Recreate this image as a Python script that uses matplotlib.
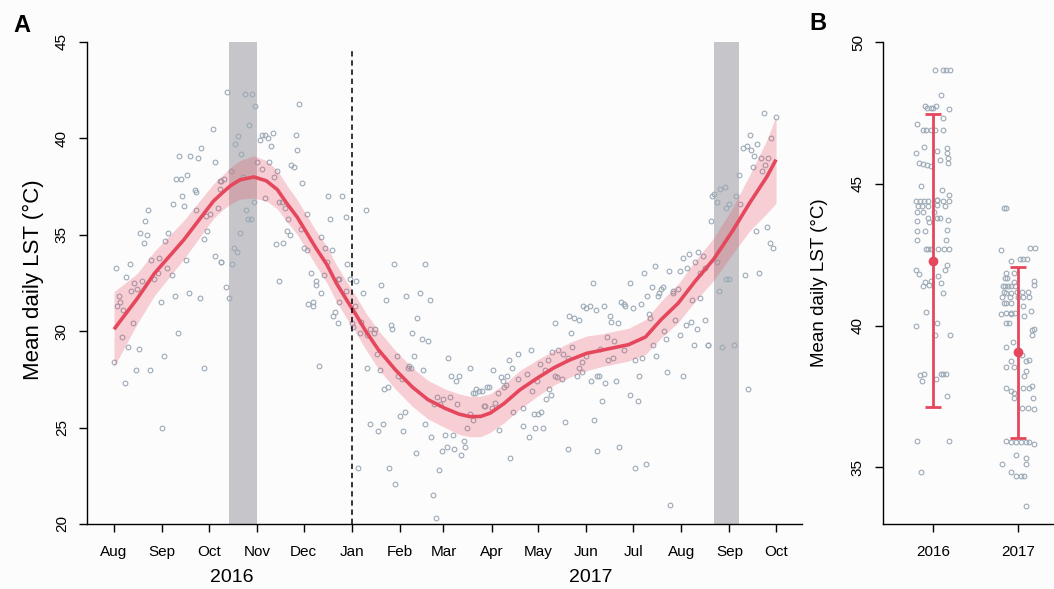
import numpy as np
import matplotlib
matplotlib.use("Agg")
import matplotlib.pyplot as plt
import matplotlib.dates as mdates
from datetime import datetime

plt.rcParams['font.family'] = ['Liberation Sans', 'DejaVu Sans']

# ---- data (panel A) ----
START = datetime(2016, 8, 1)   # day 0

# daily observations: days since 1 Aug 2016, mean daily LST (°C)
obs_day = [64, 56, 42, 49, 54, 65, 47, 40, 43, 68, 52, 53, 44, 38, 45, 22, 53, 67, 20, 59,
           62, 17, 21, 19, 35, 33, 60, 58, 65, 69, 1, 10, 24, 29, 46, 8, 13, 18, 34, 37,
           26, 28, 11, 15, 3, 4, 2, 6, 30, 39, 48, 55, 12, 5, 41,
           0, 7, 9, 14, 16, 23, 31, 32, 58, 72, 74, 106, 125, 128, 128, 130, 133, 132, 141, 142,
           144, 145, 149,
           73, 84, 89, 91, 119, 87, 80, 78, 94, 95, 97, 99, 102, 101, 117, 118, 82, 92, 95, 100,
           105, 103, 114, 116, 75, 71, 69, 83, 68, 90, 97, 106, 108, 110, 85, 121, 138, 147, 86, 88,
           112, 124, 139, 149, 120, 81, 111, 113, 133, 104, 109, 122, 124, 136, 140, 77, 79, 69, 76, 137,
           127, 135, 144, 145, 130,
           162, 180, 200, 150, 152, 156, 172, 160, 175, 188, 197, 203, 155, 195, 153, 154, 159, 158, 163, 165,
           168, 167, 178, 179, 192, 198, 202, 169, 182, 193, 190, 191, 189, 199, 163, 171, 183, 185, 215, 229,
           217, 222, 220, 174, 176, 208, 212, 216, 206, 210, 221, 231, 229, 227, 184, 187, 200, 165, 173, 170,
           186, 204, 213, 218, 225, 226, 223, 214, 211, 219, 194, 157, 177, 209, 181, 205, 207,
           308, 332, 341, 348, 357, 366, 370, 369, 376, 379, 374, 364, 346, 353, 352, 384, 385, 386, 388, 390,
           302, 304, 306, 310, 284, 293, 296, 299, 294, 295, 260, 268, 254, 256, 244, 282, 286, 289, 292, 274,
           279, 277, 304, 301, 299, 301, 298, 288, 307, 311, 249, 250, 252, 253, 232, 233, 235, 237, 240, 241,
           247, 251, 260, 266, 272, 269, 280, 284, 285, 278, 281, 238, 239, 243, 245, 231, 257, 263, 270, 273,
           275, 248, 263, 271, 276, 267, 290, 309, 292, 311, 255,
           377, 380, 372, 377, 380, 375, 373, 382, 371, 368, 364, 361, 360, 363, 360, 350, 351, 343, 339, 328,
           329, 326, 334, 315, 319, 320, 324, 344, 345, 317, 322, 313, 318, 321, 328, 335, 340, 347, 349, 354,
           355, 312, 316, 323, 338, 356, 366, 332, 337, 314, 325, 335, 342, 358,
           418, 426, 409, 405, 407, 410, 414, 412, 416, 421, 423, 411, 417, 419, 402, 393, 394, 396, 400, 403,
           413, 420, 422, 424, 388, 394, 396, 406, 415, 389, 382, 391, 399, 408]
obs_lst = [40.5, 39.5, 39.1, 39.1, 39.0, 38.8, 38.1, 37.9, 37.9, 37.8, 37.3, 37.2, 37.0, 36.6, 36.5, 36.3, 36.3, 36.4, 35.7, 36.0,
           36.1, 35.1, 35.0, 34.6, 35.1, 34.7, 35.2, 34.8, 33.9, 33.6, 33.3, 33.5, 33.7, 33.8, 33.7, 32.8, 32.5, 32.6, 33.3, 32.9,
           32.7, 33.0, 32.1, 32.2, 31.8, 31.5, 31.3, 31.1, 31.5, 31.8, 32.0, 31.7, 30.4, 29.7, 29.9,
           28.4, 27.3, 29.2, 28.0, 29.1, 28.0, 25.0, 28.7, 28.1, 32.3, 31.7, 32.6, 31.4, 31.5, 31.3, 32.4, 32.0, 28.2, 30.8, 31.0,
           30.4, 31.5, 32.1,
           42.4, 42.3, 42.3, 41.7, 41.8, 40.7, 40.1, 39.7, 39.9, 40.2, 40.2, 40.0, 40.3, 39.6, 40.2, 39.4, 39.2, 38.8, 38.4, 38.8,
           38.3, 38.0, 38.6, 38.5, 38.3, 37.9, 37.8, 38.0, 37.4, 36.7, 36.9, 36.7, 36.7, 36.4, 36.3, 37.7, 37.0, 37.0, 35.8, 35.8,
           35.8, 36.1, 35.8, 35.9, 35.3, 35.1, 35.2, 35.0, 34.9, 34.5, 34.6, 34.3, 34.2, 34.3, 34.2, 34.3, 34.1, 33.6, 33.5, 33.6,
           33.0, 32.9, 32.7, 32.7, 32.6,
           36.3, 33.5, 33.5, 33.5, 32.7, 32.6, 32.4, 32.0, 31.6, 31.8, 32.0, 31.6, 31.3, 30.7, 30.4, 30.2, 30.5, 29.9, 29.8, 30.1,
           30.1, 29.9, 30.3, 30.1, 29.9, 29.6, 29.5, 28.8, 28.7, 28.7, 28.2, 28.1, 28.1, 28.0, 28.1, 28.0, 27.7, 27.5, 28.6, 28.1,
           27.7, 27.7, 27.4, 27.0, 27.1, 26.6, 26.5, 26.6, 26.2, 26.2, 26.2, 26.8, 25.7, 25.0, 25.6, 25.8, 25.2, 25.2, 25.2, 24.8,
           24.8, 24.5, 24.6, 24.6, 24.3, 24.0, 23.6, 24.0, 23.8, 23.9, 23.7, 22.9, 22.9, 22.8, 22.1, 21.5, 20.3,
           32.5, 32.5, 33.0, 33.4, 33.1, 33.8, 34.0, 33.3, 34.1, 33.9, 33.6, 33.1, 32.3, 32.3, 32.2, 35.7, 37.0, 37.1, 36.7, 37.4,
           31.3, 31.2, 31.3, 31.1, 30.4, 30.8, 30.7, 30.6, 29.9, 29.2, 28.8, 29.0, 28.5, 28.1, 28.0, 28.9, 29.0, 28.8, 28.6, 28.3,
           28.5, 28.0, 28.7, 28.4, 28.1, 27.9, 27.7, 27.5, 27.4, 27.7, 27.6, 27.4, 27.2, 27.7, 26.8, 27.0, 26.9, 26.9, 27.1, 27.1,
           26.8, 27.1, 27.5, 27.8, 27.4, 26.9, 27.0, 27.7, 27.6, 26.5, 26.7, 26.1, 26.1, 26.0, 26.3, 25.4, 25.8, 26.0, 25.7, 25.7,
           25.8, 24.9, 25.1, 25.0, 25.0, 24.5, 25.3, 25.4, 23.9, 23.8, 23.4,
           33.0, 33.3, 31.6, 31.7, 30.6, 30.1, 29.3, 29.3, 30.5, 30.3, 29.8, 30.6, 32.0, 32.2, 32.1, 31.8, 32.0, 31.8, 31.4, 31.4,
           31.3, 31.5, 31.2, 31.3, 30.8, 30.5, 30.4, 30.9, 30.7, 29.7, 29.5, 29.1, 28.5, 28.6, 29.0, 28.5, 28.6, 29.3, 28.7, 30.0,
           29.6, 27.7, 27.3, 27.4, 27.7, 27.9, 27.7, 26.7, 26.4, 26.4, 24.0, 22.9, 23.1, 21.0,
           41.3, 41.1, 40.2, 39.5, 39.6, 39.4, 39.7, 39.1, 39.0, 39.0, 40.0, 38.5, 38.3, 38.6, 38.1, 37.5, 36.4, 36.6, 37.0, 36.6,
           35.2, 35.4, 34.6, 34.3, 33.6, 32.7, 32.7, 32.9, 33.0, 32.1, 29.3, 29.2, 29.3, 27.0]

# smoothed fit and half-width of its confidence band
fit_day = [0, 15, 26, 45, 64, 70, 75, 81, 90, 98, 105, 111, 118, 124, 130, 137, 143, 151, 155, 162,
           170, 181, 192, 202, 213, 222, 229, 236, 242, 251, 261, 272, 283, 293, 304, 313, 322, 331, 342, 352,
           363, 374, 386, 398, 409, 420, 426]
fit_lst = [30.1, 31.7, 33.0, 34.75, 36.75, 37.2, 37.55, 37.85, 38.0, 37.8, 37.35, 36.65, 35.9, 35.1, 34.3, 33.45, 32.5, 31.45, 30.95, 30.0,
           29.05, 28.0, 27.1, 26.45, 26.0, 25.7, 25.57, 25.58, 25.75, 26.25, 26.95, 27.55, 28.1, 28.5, 28.85, 29.0, 29.15, 29.3, 29.7, 30.6,
           31.45, 32.6, 33.75, 35.2, 36.65, 38.0, 38.9]
fit_se = [1.95, 1.3, 1.15, 1.0, 0.9, 0.9, 0.95, 1.0, 1.1, 1.05, 1.0, 0.95, 0.9, 0.9, 0.9, 0.95, 0.95, 0.95, 0.95, 0.95,
          1.0, 1.0, 1.0, 1.0, 1.0, 1.05, 1.05, 1.05, 1.0, 1.0, 1.0, 0.95, 0.9, 0.9, 0.9, 0.85, 0.85, 0.85, 0.9, 0.95,
          1.0, 1.05, 1.1, 1.2, 1.45, 1.9, 2.25]

# shaded periods and month ticks
shade_periods = [(datetime(2016, 10, 14), datetime(2016, 11, 1)),
                 (datetime(2017, 8, 22), datetime(2017, 9, 7))]
year_split = datetime(2017, 1, 1)
year_labels = [("2016", datetime(2016, 10, 16)), ("2017", datetime(2017, 6, 4))]

# ---- data (panel B) ----
years = ["2016", "2017"]
b_mean = [42.29, 39.05]
b_low = [37.14, 36.03]
b_high = [47.45, 42.08]

b2016_lst = [49.02, 49.02, 49.02, 49.02, 48.13, 47.75, 47.67, 47.67, 47.67, 47.75, 47.64, 47.32, 47.1,
             46.9, 46.9, 46.9, 46.9, 46.9, 46.08, 46.28, 46.26, 46.08, 45.9, 45.73, 46.14, 45.85,
             45.75, 45.71, 45.66, 45.64, 44.93, 44.79, 44.59, 44.38, 44.38, 44.38, 44.38, 44.44, 44.44, 44.38, 44.38,
             44.2, 44.2, 44.2, 44.26, 44.2, 44.0, 44.0, 44.0, 43.79, 43.64, 43.79, 43.79, 43.71, 43.70,
             43.35, 43.35, 43.38, 43.03, 43.03, 42.70, 42.70, 42.70, 42.70, 42.70, 42.70,
             41.97, 41.83, 42.15, 41.95, 41.75, 41.56, 41.52, 41.42, 41.13, 41.38, 41.5,
             40.48, 40.0, 40.09, 39.66, 39.66, 38.25, 38.28, 38.1, 38.3, 38.3, 38.3, 38.04, 37.51,
             35.93, 35.93, 34.83]
b2016_off = [0.02, 0.11, 0.15, 0.20, 0.09, -0.10, -0.07, -0.03, 0.00, 0.03, 0.18, 0.11, -0.19,
             -0.12, -0.08, -0.03, 0.02, 0.11, -0.20, -0.11, 0.16, 0.16, 0.17, 0.17, 0.04, 0.08,
             -0.17, -0.12, -0.07, -0.02, -0.14, 0.10, 0.18, -0.20, -0.15, -0.11, -0.06, 0.04, 0.05, 0.12, 0.18,
             -0.18, -0.13, -0.06, 0.04, 0.14, -0.19, -0.12, 0.01, -0.06, -0.05, 0.04, 0.08, 0.17, -0.19,
             -0.19, -0.10, 0.16, -0.19, 0.15, -0.06, -0.03, 0.06, 0.13, 0.18, -0.08,
             -0.20, -0.17, 0.16, 0.14, 0.06, -0.03, -0.10, -0.05, 0.11, -0.12, 0.09,
             -0.09, -0.20, 0.05, 0.02, 0.20, -0.16, -0.11, 0.03, 0.09, 0.12, 0.15, -0.13, 0.16,
             -0.19, 0.19, -0.14]

b2017_lst = [44.13, 44.13, 42.65, 42.72, 42.72, 42.26, 42.36, 42.36, 42.35, 41.86, 41.68, 41.68, 41.86,
             41.38, 41.38, 41.38, 41.38, 41.52, 41.38, 41.56, 41.44,
             41.2, 41.15, 41.15, 41.2, 41.2, 41.2, 41.0, 41.0, 41.0, 41.0, 41.0, 40.8, 40.8, 40.8,
             40.7, 40.53, 40.45, 40.45, 40.45, 40.42, 40.39, 40.33, 40.09, 40.09, 39.83, 39.86, 39.68,
             39.43, 39.24, 38.97, 38.74, 38.8, 38.74, 38.54, 38.54, 38.39, 38.21, 37.86, 37.8, 37.8,
             37.78, 37.69, 37.61, 37.45, 37.46, 37.1, 37.04, 37.1,
             35.93, 35.9, 35.88, 35.88, 35.88, 35.88, 35.83, 35.11, 35.42, 35.34, 35.11,
             34.83, 34.69, 34.69, 34.69, 33.64]
b2017_off = [-0.17, -0.15, -0.20, 0.14, 0.20, -0.08, 0.02, 0.05, 0.10, -0.15, -0.16, -0.13, -0.05,
             -0.18, -0.16, -0.12, -0.08, -0.05, -0.04, 0.18, 0.19,
             -0.17, -0.14, -0.08, -0.02, 0.04, 0.11, -0.19, -0.10, 0.00, 0.05, 0.13, -0.17, -0.14, -0.09,
             0.06, 0.15, -0.15, -0.09, -0.04, -0.08, -0.20, 0.07, -0.14, -0.11, 0.16, 0.19, 0.16,
             -0.06, -0.15, 0.04, -0.08, 0.13, 0.09, -0.14, -0.05, 0.09, 0.07, 0.16, 0.13, 0.05,
             -0.14, -0.08, -0.05, -0.05, 0.17, 0.11, 0.19, 0.04,
             -0.14, -0.09, -0.03, 0.03, 0.09, 0.13, 0.19, -0.19, -0.03, 0.09, 0.09,
             -0.09, -0.03, 0.03, 0.07, 0.09]

# ---- styles ----
RED = "#e5485d"
PT_EDGE = "#9caab6"
SHADE = "#c6c6ca"
BG = "#fcfcfd"

t0 = mdates.date2num(START)
obs_x = t0 + np.array(obs_day, dtype=float)
fit_x = t0 + np.array(fit_day, dtype=float)
fit_y = np.array(fit_lst)
se = np.array(fit_se)

fig = plt.figure(figsize=(10.54, 5.89), dpi=100)
fig.patch.set_facecolor(BG)
W, H = 1054, 589
axA = fig.add_axes([87 / W, (H - 524) / H, (802 - 87) / W, (524 - 42) / H])
axB = fig.add_axes([883 / W, (H - 524) / H, (1054 - 883) / W, (524 - 42) / H])
for ax in (axA, axB):
    ax.set_facecolor(BG)
    ax.spines["top"].set_visible(False)
    ax.spines["right"].set_visible(False)
    for s in ("left", "bottom"):
        ax.spines[s].set_linewidth(1.0)
    ax.tick_params(direction="out", length=6, width=1.0, labelsize=11)
    ax.tick_params(axis="x", pad=9)
    ax.tick_params(axis="y", pad=7)

# ---- panel A ----
for a, b in shade_periods:
    axA.axvspan(mdates.date2num(a), mdates.date2num(b), color=SHADE, lw=0, zorder=1)
axA.plot(obs_x, obs_lst, linestyle="none", marker="o", ms=3.4, mfc="none",
         mec=PT_EDGE, mew=0.8, zorder=2)
axA.fill_between(fit_x, fit_y - se, fit_y + se, color=RED, alpha=0.25, lw=0, zorder=3)
axA.plot(fit_x, fit_y, color=RED, lw=2.6, zorder=4, solid_capstyle="butt")
axA.axvline(mdates.date2num(year_split), ymin=0, ymax=0.985, color="black",
            lw=1.1, ls=(0, (3.5, 2.5)), zorder=5)

axA.set_xlim(t0 - 17.4, t0 + 442.7)
axA.set_ylim(20, 45)
axA.set_yticks([20, 25, 30, 35, 40, 45])
axA.xaxis.set_major_locator(mdates.MonthLocator())
axA.xaxis.set_major_formatter(mdates.DateFormatter("%b"))
for lab in axA.get_yticklabels():
    lab.set_rotation(90)
    lab.set_va("center")
for txt, d in year_labels:
    axA.text(mdates.date2num(d), -0.112, txt, transform=axA.get_xaxis_transform(),
             ha="center", va="center", fontsize=14)

# ---- panel B ----
cat_x = [1, 2]
axB.plot(cat_x[0] + np.array(b2016_off), b2016_lst, linestyle="none", marker="o",
         ms=3.4, mfc="none", mec=PT_EDGE, mew=0.8, zorder=2)
axB.plot(cat_x[1] + np.array(b2017_off), b2017_lst, linestyle="none", marker="o",
         ms=3.4, mfc="none", mec=PT_EDGE, mew=0.8, zorder=2)
means = np.array(b_mean)
yerr = [means - np.array(b_low), np.array(b_high) - means]
axB.errorbar(cat_x, means, yerr=yerr, fmt="o", color=RED, ms=6, elinewidth=2,
             capsize=5.5, capthick=2, zorder=4)
axB.set_xlim(0.41, 2.42)
axB.set_ylim(33, 50)
axB.set_xticks(cat_x)
axB.set_xticklabels(years)
axB.set_yticks([35, 40, 45, 50])
for lab in axB.get_yticklabels():
    lab.set_rotation(90)
    lab.set_va("center")

# ---- labels ----
fig.text(33 / W, 1 - 280 / H, "Mean daily LST (°C)", rotation=90, ha="center",
         va="center", fontsize=16)
fig.text(820 / W, 1 - 283 / H, "Mean daily LST (°C)", rotation=90, ha="center",
         va="center", fontsize=13.5)
fig.text(22 / W, 1 - 25 / H, "A", ha="center", va="center", fontsize=17, fontweight="bold")
fig.text(818 / W, 1 - 24 / H, "B", ha="center", va="center", fontsize=17, fontweight="bold")

fig.savefig("out.png", dpi=100, facecolor=BG)
